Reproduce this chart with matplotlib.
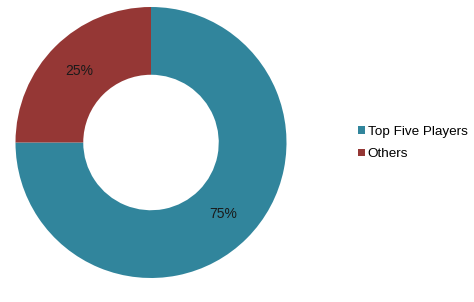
import matplotlib
matplotlib.use("Agg")
import matplotlib.pyplot as plt
from matplotlib.patches import Patch

plt.rcParams['font.family'] = ['Liberation Sans', 'DejaVu Sans']

categories = ["Top Five Players", "Others"]
values = [75, 25]
colors = ["#31859C", "#953735"]

W, H = 474, 302
fig = plt.figure(figsize=(W / 100, H / 100), dpi=100)
cx, cy, r = 151, 142.5, 135.5
ax = fig.add_axes([(cx - r) / W, (H - cy - r) / H, 2 * r / W, 2 * r / H])
wedges, texts, autotexts = ax.pie(
    values, colors=colors, startangle=90, counterclock=False,
    radius=1.0, wedgeprops=dict(width=0.5, linewidth=0),
    autopct=lambda p: f"{p:.0f}%", pctdistance=0.75,
    textprops=dict(fontsize=10, color="#1a1a1a"))
ax.set_xlim(-1, 1)
ax.set_ylim(-1, 1)
ax.set_aspect('equal')
ax.axis('off')

handles = [Patch(facecolor=c, edgecolor='none') for c in colors]
fig.legend(handles, categories, loc='center left',
           bbox_to_anchor=(353 / W, 1 - 143 / H), frameon=False,
           fontsize=9.7, handlelength=0.5, handleheight=0.5,
           handletextpad=0.2, labelspacing=0.8, borderaxespad=0)

fig.savefig("out.png", dpi=100)
